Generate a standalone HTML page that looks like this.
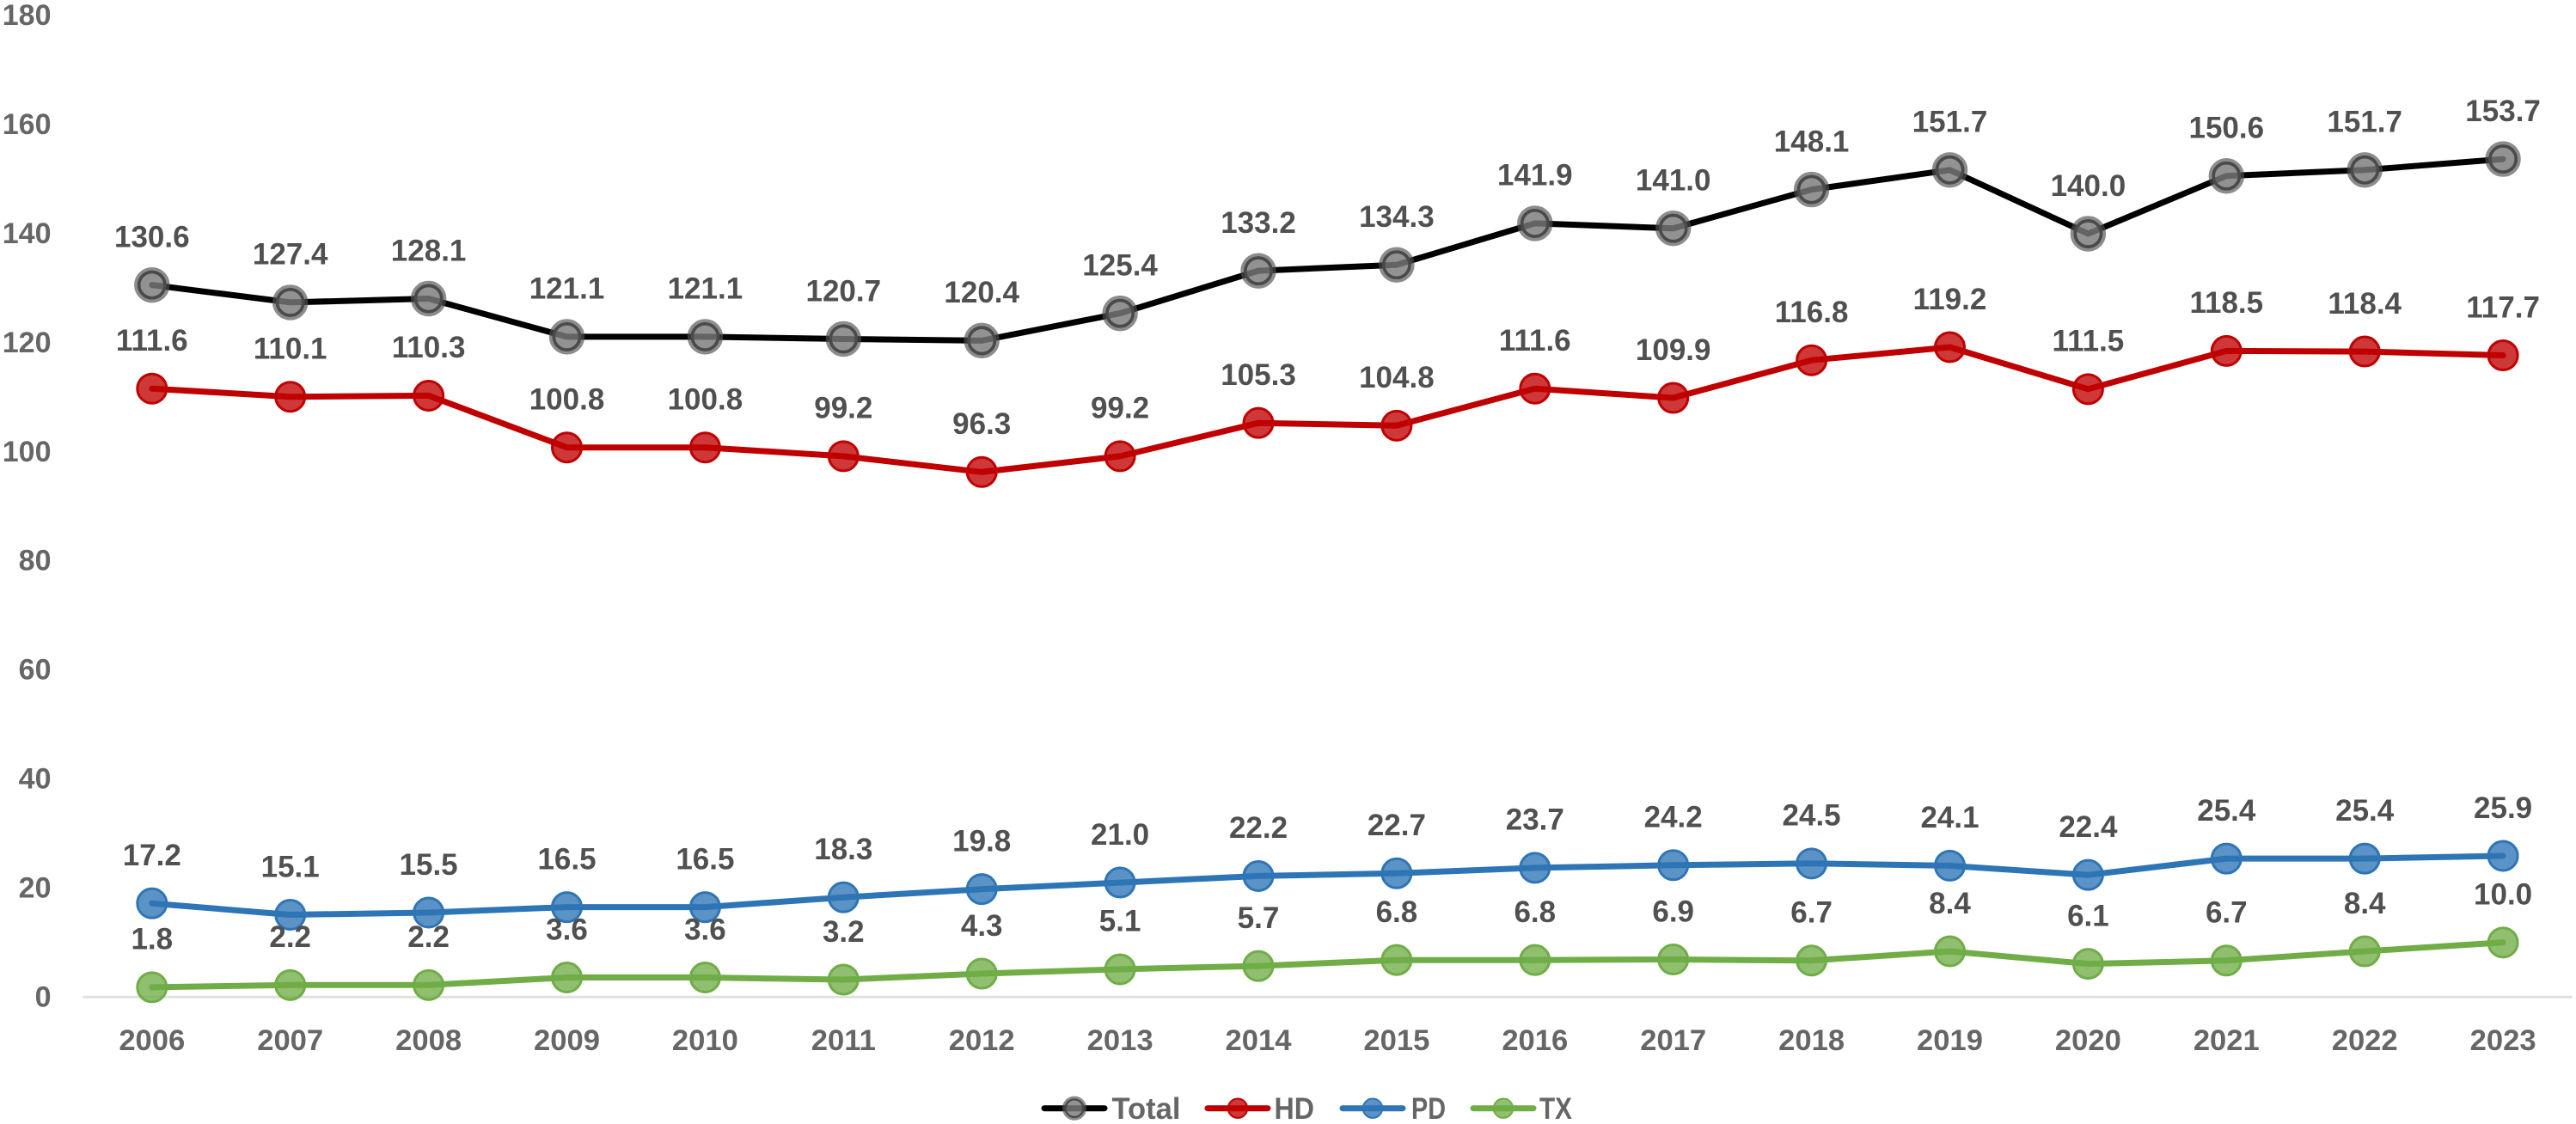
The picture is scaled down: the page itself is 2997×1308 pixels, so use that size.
<!DOCTYPE html>
<html lang="en">
<head>
<meta charset="utf-8">
<title>Line chart 2006–2023</title>
<style>
html,body{margin:0;padding:0;background:#fff;width:2997px;height:1308px;overflow:hidden}
svg{display:block}
text{font-family:"Liberation Sans",sans-serif;font-weight:bold}
</style>
</head>
<body>
<svg id="chart" xmlns="http://www.w3.org/2000/svg" width="2997" height="1308" viewBox="0 0 2997 1308"></svg>
<script>
const years = [2006,2007,2008,2009,2010,2011,2012,2013,2014,2015,2016,2017,2018,2019,2020,2021,2022,2023];
const yTicks = [0,20,40,60,80,100,120,140,160,180];
const totalValues = [130.6,127.4,128.1,121.1,121.1,120.7,120.4,125.4,133.2,134.3,141.9,141.0,148.1,151.7,140.0,150.6,151.7,153.7];
const hdValues = [111.6,110.1,110.3,100.8,100.8,99.2,96.3,99.2,105.3,104.8,111.6,109.9,116.8,119.2,111.5,118.5,118.4,117.7];
const pdValues = [17.2,15.1,15.5,16.5,16.5,18.3,19.8,21.0,22.2,22.7,23.7,24.2,24.5,24.1,22.4,25.4,25.4,25.9];
const txValues = [1.8,2.2,2.2,3.6,3.6,3.2,4.3,5.1,5.7,6.8,6.8,6.9,6.7,8.4,6.1,6.7,8.4,10.0];

const svg = document.getElementById('chart');
const NS = 'http://www.w3.org/2000/svg';
const x0 = 176.8, xStep = 160.9, y0 = 1160.3, yUnit = 6.345;
function xAt(i){ return x0 + i * xStep; }
function yAt(v){ return y0 - v * yUnit; }
function mk(tag, attrs, parent){
  const el = document.createElementNS(NS, tag);
  for (const k in attrs) el.setAttribute(k, attrs[k]);
  (parent || svg).appendChild(el);
  return el;
}

const axisLine = mk('line', {x1:96.3, x2:2992.8, y1:y0, y2:y0, stroke:'#e0e0e0', 'stroke-width':3});



yTicks.forEach(function(t){
  const el = mk('text', {x:59.5, y:yAt(t) + 11, 'text-anchor':'end', 'font-size':34, fill:'#666666'});
  el.textContent = String(t);
  
  
});

years.forEach(function(yr, i){
  const el = mk('text', {x:xAt(i), y:1222, 'text-anchor':'middle', 'font-size':34.6, fill:'#666666'});
  el.textContent = String(yr);
  
  
});

function drawMarker(g, cx, cy, color, isTotal, scale){
  if (isTotal) {
    mk('circle', {cx:cx, cy:cy, r:15.2*scale, fill:'rgba(122,122,122,0.82)', stroke:'#4a4a4a', 'stroke-width':3.8*scale}, g);
    mk('circle', {cx:cx, cy:cy, r:18.9*scale, fill:'none', stroke:'rgba(80,80,80,0.66)', 'stroke-width':3.6*scale}, g);
  } else {
    mk('circle', {cx:cx, cy:cy, r:17*scale, fill:color, 'fill-opacity':0.78, stroke:color, 'stroke-width':3*scale}, g);
  }
}

function drawSeries(name, values, color, isTotal){
  const g = mk('g', {});
  
  
  const pts = values.map(function(v, i){ return xAt(i).toFixed(1) + ',' + yAt(v).toFixed(1); }).join(' ');
  const line = mk('polyline', {points:pts, fill:'none', stroke:color, 'stroke-width':7, 'stroke-linecap':'round', 'stroke-linejoin':'round'}, g);
  
  
  values.forEach(function(v, i){
    const m = mk('g', {}, g);
    
    
    drawMarker(m, xAt(i), yAt(v), color, isTotal, 1);
  });
  values.forEach(function(v, i){
    const t = mk('text', {x:xAt(i), y:yAt(v) - 44.2, 'text-anchor':'middle', 'font-size':35, fill:'#505050'}, g);
    t.textContent = v.toFixed(1);
    
    
  });
}

drawSeries('total', totalValues, '#000000', true);
drawSeries('hd', hdValues, '#c00000', false);
drawSeries('pd', pdValues, '#2e75b6', false);
drawSeries('tx', txValues, '#70ad47', false);

const legendNames = ['Total','HD','PD','TX'];
const legendColors = ['#000000','#c00000','#2e75b6','#70ad47'];
const legendLineStart = [1212,1402,1559,1711];
const legendTextStart = [1293.5,1482.5,1642,1791];
const legendTextWidth = [80,46.5,40,38];
const ly = 1289.7;
legendNames.forEach(function(n, i){
  const g = mk('g', {});
  
  
  mk('line', {x1:legendLineStart[i] + 3, x2:legendLineStart[i] + 73, y1:ly, y2:ly, stroke:legendColors[i], 'stroke-width':7, 'stroke-linecap':'round'}, g);
  drawMarker(g, legendLineStart[i] + 38, ly, legendColors[i], i === 0, i === 0 ? 0.68 : 0.66);
  const t = mk('text', {x:legendTextStart[i], y:ly + 12.5, 'font-size':35.5, fill:'#666666', textLength:legendTextWidth[i], lengthAdjust:'spacingAndGlyphs'}, g);
  t.textContent = n;
});
</script>
</body>
</html>
